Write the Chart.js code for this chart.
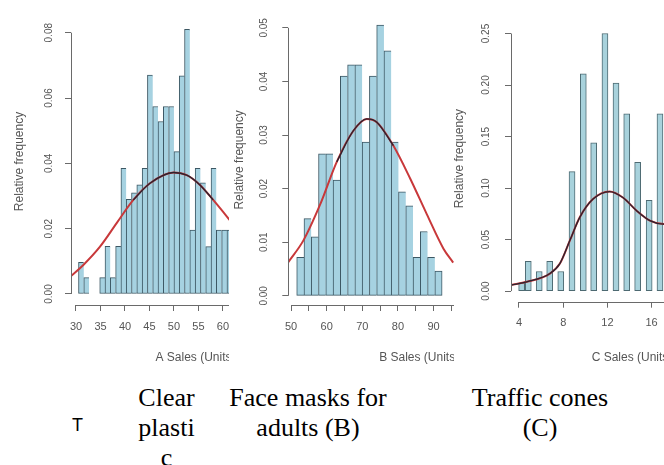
<!DOCTYPE html>
<html>
<head>
<meta charset="utf-8">
<script src="https://cdn.jsdelivr.net/npm/chart.js@4.4.1/dist/chart.umd.min.js"></script>
<style>
  body { margin: 0; width: 664px; height: 465px; overflow: hidden; background: #fff; position: relative; }
  .panel { position: absolute; top: 0; height: 385px; overflow: hidden; }
  .panel canvas { position: absolute; top: 0; }
  .cap { position: absolute; font-family: "Liberation Serif", "Times New Roman", serif; font-size: 26px;
         line-height: 30px; text-align: center; color: #000; overflow-wrap: anywhere; }
  .mark { position: absolute; left: 72px; top: 415px; font-family: "Liberation Sans", Arial, sans-serif; font-size: 18px; }
</style>
</head>
<body>

<div class="panel" style="left:0;width:229px"><canvas id="histA" width="320" height="380" style="left:0"></canvas></div>
<div class="panel" style="left:229px;width:225px"><canvas id="histB" width="321" height="380" style="left:0"></canvas></div>
<div class="panel" style="left:454px;width:210px"><canvas id="histC" width="301" height="380" style="left:-2px"></canvas></div>

<div class="mark">T</div>
<div class="cap" style="left:135px;top:383px;width:63px">Clear plastic</div>
<div class="cap" style="left:218px;top:383px;width:180px">Face masks for adults (B)</div>
<div class="cap" style="left:465px;top:383px;width:150px">Traffic cones (C)</div>

<script>
// --- A: clear plastic ---
const aBinMid = [31.05, 32.13, 33.22, 34.30, 35.38, 36.46, 37.54, 38.63, 39.71, 40.79, 41.87, 42.95, 44.04, 45.12, 46.20,
                 47.28, 48.36, 49.45, 50.53, 51.61, 52.69, 53.77, 54.86, 55.94, 57.02, 58.10, 59.18, 60.27, 61.35];
const aRelFreq = [0.0097, 0.0050, 0, 0, 0.0050, 0.0146, 0.0050, 0.0146, 0.0385, 0.0290, 0.0310, 0.0334, 0.0385, 0.0670, 0.0574,
                  0.0528, 0.0574, 0.0574, 0.0436, 0.0668, 0.0810, 0.0196, 0.0385, 0.0340, 0.0145, 0.0385, 0.0196, 0.0196, 0.0196];
const aFitX = [28.98, 31.5, 34.9, 38.3, 41.7, 45.1, 49.9, 52.6, 55.3, 58.0, 60.8, 62.5];
const aFitY = [0.0055, 0.0089, 0.0145, 0.0217, 0.0288, 0.0339, 0.0372, 0.0364, 0.0334, 0.0288, 0.0237, 0.0205];
const aDensX = [41.7, 45.1, 49.9, 52.6, 55.3, 58.0];
const aDensY = [0.0288, 0.0339, 0.0372, 0.0364, 0.0334, 0.0288];

// --- B: face masks for adults ---
const bBinMid = [52.62, 54.66, 56.70, 58.74, 60.78, 62.82, 64.86, 66.90, 68.94, 70.98,
                 73.02, 75.06, 77.10, 79.14, 81.18, 83.22, 85.26, 87.30, 89.34, 91.38];
const bRelFreq = [0.0072, 0.0144, 0.0110, 0.0265, 0.0265, 0.0216, 0.0410, 0.0431, 0.0431, 0.0287,
                  0.0410, 0.0505, 0.0457, 0.0287, 0.0194, 0.0168, 0.0072, 0.0120, 0.0072, 0.0046];
const bFitX = [49.24, 53.45, 58.15, 62.84, 67.5, 71.26, 74.07, 78.74, 83.43, 88.12, 92.78, 95.5];
const bFitY = [0.0063, 0.0103, 0.0170, 0.0250, 0.0308, 0.0330, 0.0324, 0.0280, 0.0219, 0.0152, 0.0088, 0.0062];
const bDensX = [62.84, 67.5, 71.26, 74.07, 78.74];
const bDensY = [0.0250, 0.0308, 0.0330, 0.0324, 0.0280];

// --- C: traffic cones ---
const cBinMid = [4.24, 4.84, 5.83, 6.78, 7.78, 8.80, 9.82, 10.76, 11.78, 12.78, 13.75, 14.74, 15.78, 16.76];
const cRelFreq = [0.008, 0.029, 0.019, 0.029, 0.019, 0.116, 0.211, 0.144, 0.250, 0.202, 0.172, 0.125, 0.088, 0.172];
const cFitX = [3.28, 4.7, 6.8, 7.7, 8.6, 9.5, 10.7, 12.2, 13.4, 14.65, 15.85, 17.1, 18.0];
const cFitY = [0.0058, 0.009, 0.017, 0.0267, 0.049, 0.0716, 0.0893, 0.0966, 0.0908, 0.078, 0.0684, 0.065, 0.066];

const AXIS = '#6a6a6a';
const TEXT = '#555555';
const SANS = '"Liberation Sans", Arial, sans-serif';

const pts = (xs, ys) => xs.map((x, i) => ({ x: x, y: ys[i] }));

// R-style axis lines: only from the first tick to the last one
const rAxes = {
  id: 'rAxes',
  afterDatasetsDraw(chart) {
    const { ctx, chartArea, scales: { x, y } } = chart;
    const xt = x.ticks, yt = y.ticks;
    const bx = Math.round(chartArea.bottom) + 0.5;
    const lx = Math.round(chartArea.left) + 0.5;
    ctx.save();
    ctx.strokeStyle = AXIS;
    ctx.lineWidth = 1;
    ctx.beginPath();
    ctx.moveTo(x.getPixelForValue(xt[0].value), bx);
    ctx.lineTo(x.getPixelForValue(xt[xt.length - 1].value), bx);
    ctx.moveTo(lx, y.getPixelForValue(yt[0].value));
    ctx.lineTo(lx, y.getPixelForValue(yt[yt.length - 1].value));
    ctx.stroke();
    ctx.restore();
  }
};

function makeHist(id, o) {
  const last = o.mids.length - 1;
  const datasets = [{
    type: 'bar',
    data: pts(o.mids, o.freq),
    backgroundColor: o.fill,
    borderColor: o.edge,
    borderWidth: o.thickness ? 1 : (c => ({ top: 1, left: 1, bottom: 1, right: c.dataIndex === last ? 1 : 0 })),
    borderSkipped: false,
    barPercentage: 1,
    categoryPercentage: 1,
    barThickness: o.thickness,
    order: 2
  }, {
    type: 'line',
    data: pts(o.fitX, o.fitY),
    borderColor: '#c8383a',
    borderWidth: 2,
    pointRadius: 0,
    cubicInterpolationMode: 'monotone',
    order: 1
  }];
  if (o.densX) {
    datasets.push({
      type: 'line',
      data: pts(o.densX, o.densY),
      borderColor: '#2a2430',
      borderWidth: 1.3,
      pointRadius: 0,
      cubicInterpolationMode: 'monotone',
      order: 0
    });
  }

  // tick labels past the panel edge are left blank so they do not pad the plot area
  const xLabel = v => {
    if (v > o.xLabelMax) return '';
    if (o.xLabelEvery && v % o.xLabelEvery !== 0) return '';
    return String(v);
  };

  new Chart(document.getElementById(id), {
    type: 'bar',
    data: { datasets: datasets },
    plugins: [rAxes],
    options: {
      responsive: false,
      animation: false,
      layout: { autoPadding: false, padding: { top: o.top, left: 0, right: 0, bottom: 0 } },
      plugins: { legend: { display: false }, tooltip: { enabled: false } },
      scales: {
        x: {
          type: 'linear',
          offset: false,
          min: o.xMin, max: o.xMax,
          border: { display: false },
          grid: { offset: false, drawOnChartArea: false, drawTicks: true, tickLength: 6, color: AXIS },
          ticks: {
            stepSize: o.xStep, includeBounds: false, autoSkip: false, maxRotation: 0,
            padding: 9, color: TEXT, font: { family: SANS, size: 11 },
            callback: xLabel
          },
          title: { display: true, text: o.xTitle, color: TEXT, font: { family: SANS, size: 12 },
                   padding: { top: 0, bottom: 14.8 } },
          afterFit: s => { s.height = o.xHeight; }
        },
        y: {
          min: o.yMin, max: o.yMax,
          border: { display: false },
          grid: { drawOnChartArea: false, drawTicks: true, tickLength: 6, color: AXIS },
          ticks: {
            stepSize: o.yStep, includeBounds: false, minRotation: 90, maxRotation: 90,
            crossAlign: 'center', padding: o.yPad, color: TEXT, font: { family: SANS, size: 10 },
            callback: v => v.toFixed(2)
          },
          title: { display: true, text: 'Relative frequency', color: TEXT, font: { family: SANS, size: 12 },
                   padding: { top: o.titlePad, bottom: 0 } },
          afterFit: s => { s.width = o.yWidth; }
        }
      }
    }
  });
}

makeHist('histA', {
  mids: aBinMid, freq: aRelFreq, fitX: aFitX, fitY: aFitY, densX: aDensX, densY: aDensY,
  fill: '#a6d2e1', edge: '#3c5763',
  xMin: 28.98, xMax: 79.8, xStep: 5, xLabelMax: 70, xTitle: 'A Sales (Units)', xHeight: 75,
  yMin: -0.00337, yMax: 0.0845, yStep: 0.02, yWidth: 71, yPad: 6, titlePad: 12.8, top: 18
});

makeHist('histB', {
  mids: bBinMid, freq: bRelFreq, fitX: bFitX, fitY: bFitY, densX: bDensX, densY: bDensY,
  fill: '#a6d2e1', edge: '#3c5763',
  xMin: 49.24, xMax: 122.67, xStep: 5, xLabelEvery: 10, xLabelMax: 100, xTitle: 'B Sales (Units)', xHeight: 75,
  yMin: -0.00171, yMax: 0.05243, yStep: 0.01, yWidth: 59.3, yPad: 8.8, titlePad: 3.8, top: 11
});

makeHist('histC', {
  mids: cBinMid, freq: cRelFreq, fitX: cFitX, fitY: cFitY, densX: cFitX, densY: cFitY,
  fill: '#a8d2dc', edge: '#4d6a72', thickness: 6,
  xMin: 3.276, xMax: 25.18, xStep: 4, xLabelMax: 20, xTitle: 'C Sales (Units)', xHeight: 78.3,
  yMin: -0.0103, yMax: 0.2675, yStep: 0.05, yWidth: 59, yPad: 9.5, titlePad: 0.8, top: 13.3
});
</script>
</body>
</html>
